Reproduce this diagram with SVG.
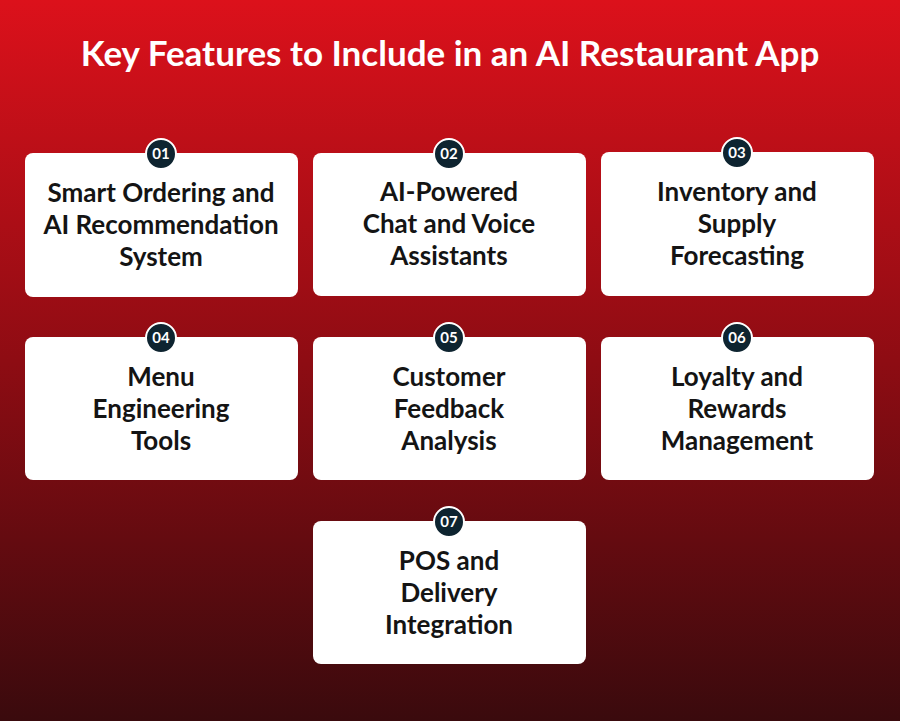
<svg xmlns="http://www.w3.org/2000/svg" width="900" height="721" viewBox="0 0 900 721">
<defs>
<linearGradient id="bg" x1="0" y1="0" x2="0" y2="1">
<stop offset="0" stop-color="#dc111b"/>
<stop offset="0.5" stop-color="#8e0c13"/>
<stop offset="1" stop-color="#3a0a0d"/>
</linearGradient>
</defs>
<style>
.card{fill:#fff;}
.badge{fill:#0e2430;stroke:#fff;stroke-width:2;}
.num{font-family:Lato,"Liberation Sans",sans-serif;font-weight:700;font-size:15px;fill:#fff;text-anchor:middle;}
.lbl{font-family:Lato,"Liberation Sans",sans-serif;font-weight:700;font-size:26px;fill:#141414;text-anchor:middle;}
.title{font-family:Lato,"Liberation Sans",sans-serif;font-weight:700;font-size:35px;fill:#fff;text-anchor:middle;}
</style>
<rect width="900" height="721" fill="url(#bg)"/>
<text class="title" x="450" y="66">Key Features to Include in an AI Restaurant App</text>
<g id="connectors"/>
<g id="n1"><rect class="card" x="25" y="153" width="273" height="144" rx="8"/><circle class="badge" cx="161" cy="154" r="15"/><text class="num" x="161" y="159">01</text>
<text class="lbl" x="161" y="202">Smart Ordering and</text><text class="lbl" x="161" y="234">AI Recommendation</text><text class="lbl" x="161" y="266">System</text></g>
<g id="n2"><rect class="card" x="313" y="153" width="273" height="143" rx="8"/><circle class="badge" cx="449" cy="154" r="15"/><text class="num" x="449" y="159">02</text>
<text class="lbl" x="449" y="201">AI-Powered</text><text class="lbl" x="449" y="233">Chat and Voice</text><text class="lbl" x="449" y="265">Assistants</text></g>
<g id="n3"><rect class="card" x="601" y="152" width="273" height="144" rx="8"/><circle class="badge" cx="737" cy="153" r="15"/><text class="num" x="737" y="158">03</text>
<text class="lbl" x="737" y="201">Inventory and</text><text class="lbl" x="737" y="233">Supply</text><text class="lbl" x="737" y="265">Forecasting</text></g>
<g id="n4"><rect class="card" x="25" y="337" width="273" height="143" rx="8"/><circle class="badge" cx="161" cy="338" r="15"/><text class="num" x="161" y="343">04</text>
<text class="lbl" x="161" y="386">Menu</text><text class="lbl" x="161" y="418">Engineering</text><text class="lbl" x="161" y="450">Tools</text></g>
<g id="n5"><rect class="card" x="313" y="337" width="273" height="143" rx="8"/><circle class="badge" cx="449" cy="338" r="15"/><text class="num" x="449" y="343">05</text>
<text class="lbl" x="449" y="386">Customer</text><text class="lbl" x="449" y="418">Feedback</text><text class="lbl" x="449" y="450">Analysis</text></g>
<g id="n6"><rect class="card" x="601" y="337" width="273" height="143" rx="8"/><circle class="badge" cx="737" cy="338" r="15"/><text class="num" x="737" y="343">06</text>
<text class="lbl" x="737" y="386">Loyalty and</text><text class="lbl" x="737" y="418">Rewards</text><text class="lbl" x="737" y="450">Management</text></g>
<g id="n7"><rect class="card" x="313" y="521" width="273" height="143" rx="8"/><circle class="badge" cx="449" cy="522" r="15"/><text class="num" x="449" y="527">07</text>
<text class="lbl" x="449" y="570">POS and</text><text class="lbl" x="449" y="602">Delivery</text><text class="lbl" x="449" y="634">Integration</text></g>
</svg>
